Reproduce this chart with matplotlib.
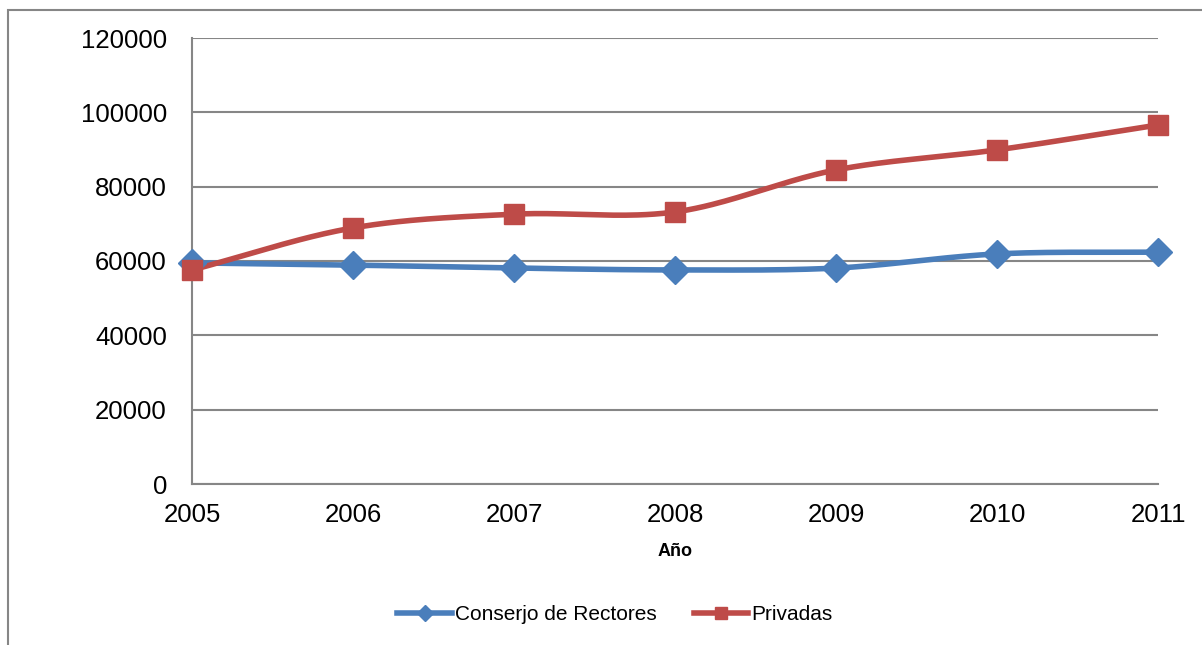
import numpy as np
import matplotlib
matplotlib.use('Agg')
import matplotlib.pyplot as plt
from matplotlib.patches import Rectangle

years = [2005, 2006, 2007, 2008, 2009, 2010, 2011]
consejo = [59500, 58900, 58100, 57600, 58100, 61900, 62400]
privadas = [57600, 68900, 72600, 73200, 84500, 89900, 96600]

yticks = [0, 20000, 40000, 60000, 80000, 100000, 120000]


def smooth(x, y, n=40):
    # Catmull-Rom curve through the points, like Excel's smoothed line
    x = np.asarray(x, float)
    y = np.asarray(y, float)
    px = np.concatenate([[2 * x[0] - x[1]], x, [2 * x[-1] - x[-2]]])
    py = np.concatenate([[2 * y[0] - y[1]], y, [2 * y[-1] - y[-2]]])
    xs, ys = [], []
    t = np.linspace(0, 1, n)
    for i in range(1, len(px) - 2):
        for p, out in ((px, xs), (py, ys)):
            p0, p1, p2, p3 = p[i - 1], p[i], p[i + 1], p[i + 2]
            out.extend(0.5 * (2 * p1 + (-p0 + p2) * t
                              + (2 * p0 - 5 * p1 + 4 * p2 - p3) * t ** 2
                              + (-p0 + 3 * p1 - 3 * p2 + p3) * t ** 3))
    return xs, ys


plt.rcParams['font.family'] = ['Liberation Sans', 'DejaVu Sans']

fig = plt.figure(figsize=(12.02, 6.45), dpi=100)
ax = fig.add_axes([192 / 1202, 1 - 484 / 645, 966 / 1202, 446 / 645])

blue = '#4A7EBB'
red = '#BE4B48'

for vals, col, mk, ms, lab in ((consejo, blue, 'D', 14, 'Conserjo de Rectores'),
                               (privadas, red, 's', 15, 'Privadas')):
    sx, sy = smooth(years, vals)
    ax.plot(sx, sy, color=col, lw=4, solid_capstyle='round', zorder=3, clip_on=False)
    ax.plot(years, vals, ls='none', marker=mk, ms=ms, color=col, zorder=4, clip_on=False)
    ax.plot([], [], color=col, lw=4, marker=mk, ms=ms * 0.6, label=lab)

ax.set_xlim(2005, 2011)
ax.set_ylim(0, 120000)
ax.set_yticks(yticks)
ax.set_xticks(years)
ax.grid(axis='y', color='#868686', lw=1.5)
ax.set_axisbelow(True)
for s in ('top', 'right'):
    ax.spines[s].set_visible(False)
for s in ('left', 'bottom'):
    ax.spines[s].set_color('#868686')
    ax.spines[s].set_linewidth(1.5)
ax.tick_params(axis='y', length=0, labelsize=18.5, pad=18)
ax.tick_params(axis='x', length=0, labelsize=18.5, pad=14)
ax.set_xlabel('Año', fontsize=13, fontweight='bold', labelpad=11)

ax.legend(loc='center', bbox_to_anchor=(615 / 1202, 1 - 615 / 645), bbox_transform=fig.transFigure,
          ncol=2, frameon=False, fontsize=15, handlelength=2.6, handletextpad=0.15,
          columnspacing=1.8)

fig.patches.append(Rectangle((8 / 1202, -0.1), 1.2, 1.1 - 10 / 645, transform=fig.transFigure,
                             fill=False, edgecolor='#868686', lw=1.5))

fig.savefig('out.png', dpi=100)
